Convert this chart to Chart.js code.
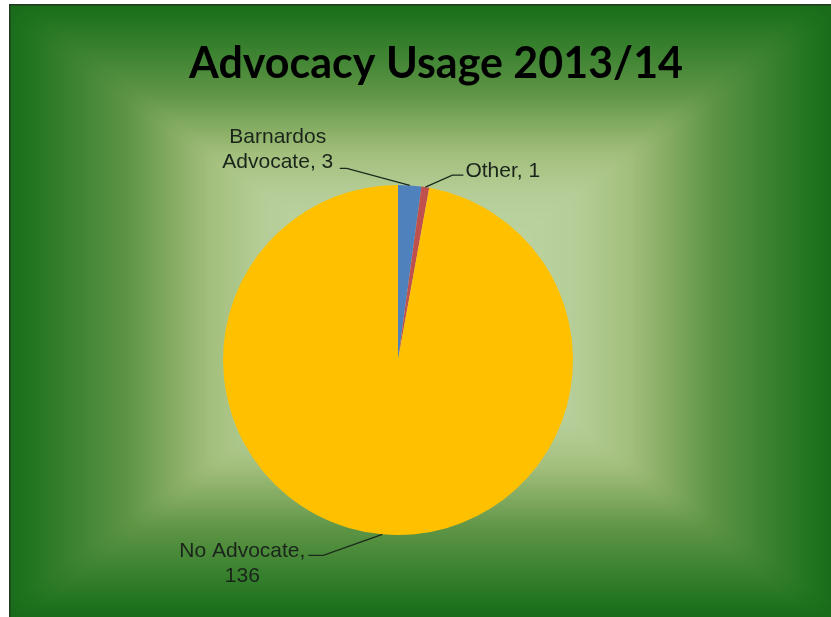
<!DOCTYPE html>
<html>
<head>
<meta charset="utf-8">
<title>Advocacy Usage 2013/14</title>
<script src="https://cdn.jsdelivr.net/npm/chart.js@4.4.1/dist/chart.umd.min.js"></script>
<style>
  html, body { margin: 0; padding: 0; background: #ffffff; }
  #wrap { position: relative; width: 831px; height: 617px; }
</style>
</head>
<body>
<div id="wrap"><canvas id="chart"></canvas></div>
<script>
// Data
const chartTitle = 'Advocacy Usage 2013/14';
const categories = ['Barnardos Advocate', 'Other', 'No Advocate'];
const usage = [3, 1, 136];
const sliceColors = ['#4F81BD', '#C0504D', '#FFC000'];

// Data label placement: elbow offset from the slice edge, horizontal run,
// and where the text block sits relative to the end of the run.
const labelPlacement = [
  { elbow: [-63, -17], run: -7, align: 'center', textDx: -62, firstBaselineDy: -25 },
  { elbow: [27, -12], run: 11, align: 'left', textDx: 2, firstBaselineDy: 2 },
  { elbow: [-59, 21], run: -15, align: 'center', textDx: -66, firstBaselineDy: 2 }
];

const frame = { x: 9, y: 4, w: 822, h: 613 };

// Rectangular-path gradient: colour by normalised distance from centre
const bgStops = [
  [0.00, [198, 218, 172]],
  [0.38, [181, 206, 152]],
  [0.51, [163, 191, 124]],
  [0.61, [130, 170, 96]],
  [0.71, [94, 149, 69]],
  [0.83, [63, 132, 51]],
  [0.97, [29, 113, 28]],
  [1.00, [26, 108, 26]]
];

function stopColor(t) {
  for (let i = 1; i < bgStops.length; i++) {
    if (t <= bgStops[i][0]) {
      const [t0, c0] = bgStops[i - 1];
      const [t1, c1] = bgStops[i];
      const f = (t - t0) / (t1 - t0);
      return [0, 1, 2].map(k => c0[k] + (c1[k] - c0[k]) * f);
    }
  }
  return bgStops[bgStops.length - 1][1];
}

let bgImage = null;
function buildBackground() {
  const c = document.createElement('canvas');
  c.width = frame.w; c.height = frame.h;
  const g = c.getContext('2d');
  const img = g.createImageData(frame.w, frame.h);
  const hw = frame.w / 2, hh = frame.h / 2;
  const p = 14; // soft rectangular falloff keeps the diagonal seams gentle
  for (let y = 0; y < frame.h; y++) {
    for (let x = 0; x < frame.w; x++) {
      const u = Math.abs(x + 0.5 - hw) / hw;
      const v = Math.abs(y + 0.5 - hh) / hh;
      const m = Math.max(u, v);
      const t = Math.min(1, Math.max(m, Math.pow(Math.pow(u, p) + Math.pow(v, p), 1 / p) * 0.97));
      const col = stopColor(t);
      const i = (y * frame.w + x) * 4;
      img.data[i] = col[0]; img.data[i + 1] = col[1]; img.data[i + 2] = col[2]; img.data[i + 3] = 255;
    }
  }
  g.putImageData(img, 0, 0);
  return c;
}

const backgroundPlugin = {
  id: 'chartBackground',
  beforeDraw(chart) {
    const ctx = chart.ctx;
    if (!bgImage) bgImage = buildBackground();
    ctx.save();
    ctx.fillStyle = '#ffffff';
    ctx.fillRect(0, 0, chart.width, chart.height);
    ctx.drawImage(bgImage, frame.x, frame.y);
    ctx.strokeStyle = '#1f3a1f';
    ctx.lineWidth = 1.5;
    ctx.strokeRect(frame.x + 0.75, frame.y + 0.75, frame.w + 4, frame.h + 4);
    ctx.restore();
  }
};

function wrapText(ctx, text, maxWidth) {
  const words = text.split(' ');
  const lines = [];
  let line = '';
  for (const w of words) {
    const test = line ? line + ' ' + w : w;
    if (line && ctx.measureText(test).width > maxWidth) {
      lines.push(line);
      line = w;
    } else {
      line = test;
    }
  }
  if (line) lines.push(line);
  return lines;
}

const titleAndLabelsPlugin = {
  id: 'titleAndLabels',
  afterDatasetsDraw(chart) {
    const ctx = chart.ctx;
    ctx.save();
    // Title
    ctx.font = 'bold 43px Lato, "Liberation Sans", sans-serif';
    ctx.fillStyle = '#000000';
    ctx.textAlign = 'center';
    ctx.textBaseline = 'alphabetic';
    ctx.fillText(chartTitle, 436, 78);

    // Data labels with leader lines
    const meta = chart.getDatasetMeta(0);
    const values = chart.data.datasets[0].data;
    ctx.font = '21px "Liberation Sans", Arial, sans-serif';
    ctx.textBaseline = 'alphabetic';
    meta.data.forEach((arc, i) => {
      const p = labelPlacement[i];
      const mid = (arc.startAngle + arc.endAngle) / 2;
      const ex = arc.x + Math.cos(mid) * arc.outerRadius;
      const ey = arc.y + Math.sin(mid) * arc.outerRadius;
      const bx = ex + p.elbow[0], by = ey + p.elbow[1];
      const rx = bx + p.run, ry = by;
      ctx.strokeStyle = '#1c281c';
      ctx.lineWidth = 1.3;
      ctx.beginPath();
      ctx.moveTo(ex, ey);
      ctx.lineTo(bx, by);
      ctx.lineTo(rx, ry);
      ctx.stroke();

      const lines = wrapText(ctx, chart.data.labels[i] + ', ' + values[i], 130);
      ctx.fillStyle = '#1a241a';
      ctx.textAlign = p.align;
      lines.forEach((ln, k) => {
        ctx.fillText(ln, rx + p.textDx, ry + p.firstBaselineDy + k * 25);
      });
    });
    ctx.restore();
  }
};

new Chart(document.getElementById('chart'), {
  type: 'pie',
  data: {
    labels: categories,
    datasets: [{
      data: usage,
      backgroundColor: sliceColors,
      borderWidth: 0
    }]
  },
  options: {
    responsive: true,
    maintainAspectRatio: false,
    animation: false,
    events: [],
    layout: { padding: { left: 223, right: 258, top: 185, bottom: 82 } },
    plugins: {
      legend: { display: false },
      title: { display: false },
      tooltip: { enabled: false }
    }
  },
  plugins: [backgroundPlugin, titleAndLabelsPlugin]
});
</script>
</body>
</html>
